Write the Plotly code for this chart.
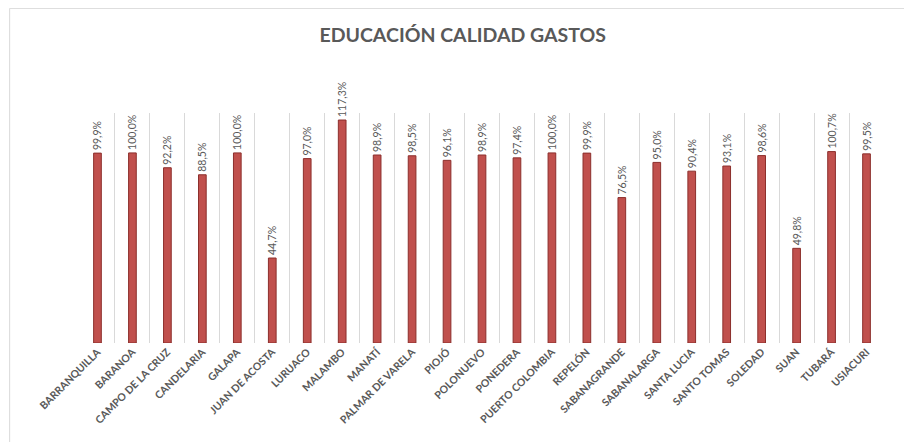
import plotly.graph_objects as go

MUNICIPIOS = [
    "BARRANQUILLA", "BARANOA", "CAMPO DE LA CRUZ", "CANDELARIA", "GALAPA",
    "JUAN DE ACOSTA", "LURUACO", "MALAMBO", "MANATÍ", "PALMAR DE VARELA",
    "PIOJÓ", "POLONUEVO", "PONEDERA", "PUERTO COLOMBIA", "REPELÓN",
    "SABANAGRANDE", "SABANALARGA", "SANTA LUCIA", "SANTO TOMAS", "SOLEDAD",
    "SUAN", "TUBARÁ", "USIACURI",
]
EJECUCION_PCT = [
    99.9, 100.0, 92.2, 88.5, 100.0,
    44.7, 97.0, 117.3, 98.9, 98.5,
    96.1, 98.9, 97.4, 100.0, 99.9,
    76.5, 95.0, 90.4, 93.1, 98.6,
    49.8, 100.7, 99.5,
]

BAR_RED = "#C0504D"
BAR_EDGE = "#8C2F2C"
GRID = "#D9D9D9"
TEXT_GRAY = "#595959"
FONT = "Lato, 'Open Sans', sans-serif"

# page body has an 8px default margin, so the figure is sized to fit inside it
W, H = 904, 434

fig = go.Figure(go.Bar(
    x=MUNICIPIOS,
    y=EJECUCION_PCT,
    width=0.22,
    marker=dict(color=BAR_RED, line=dict(color=BAR_EDGE, width=1)),
    texttemplate="%{y:.1f}%",
    textposition="outside",
    textangle=-90,
    constraintext="none",
    textfont=dict(size=10.5, color=TEXT_GRAY, family=FONT),
    cliponaxis=False,
    hovertemplate="%{x}: %{y:.1f}%<extra></extra>",
))

fig.update_layout(
    width=W,
    height=H,
    paper_bgcolor="white",
    plot_bgcolor="white",
    separators=",.",
    font=dict(family=FONT, color=TEXT_GRAY),
    title=dict(
        text="<b>EDUCACIÓN CALIDAD GASTOS</b>",
        x=0.503, xanchor="center", y=0.938, yanchor="middle",
        font=dict(size=19.5, color=TEXT_GRAY, family=FONT),
    ),
    margin=dict(l=72, r=28, t=105, b=99),
    showlegend=False,
)

fig.update_xaxes(
    automargin=False,
    tickangle=-45,
    tickson="boundaries",
    showgrid=True,
    gridcolor=GRID,
    gridwidth=1,
    showline=False,
    ticks="",
    tickfont=dict(size=10.5, color=TEXT_GRAY, family=FONT, weight="bold"),
)
fig.update_yaxes(range=[0, 121], visible=False, showgrid=False, automargin=False)

# light frame around the chart, like the exported spreadsheet chart
fig.add_shape(
    type="rect", xref="paper", yref="paper",
    x0=-0.0875, x1=1.05, y0=-0.5, y1=1.455,
    line=dict(color="#D9D9D9", width=1),
    fillcolor="rgba(0,0,0,0)", layer="below",
)

fig.write_html("out.html")
